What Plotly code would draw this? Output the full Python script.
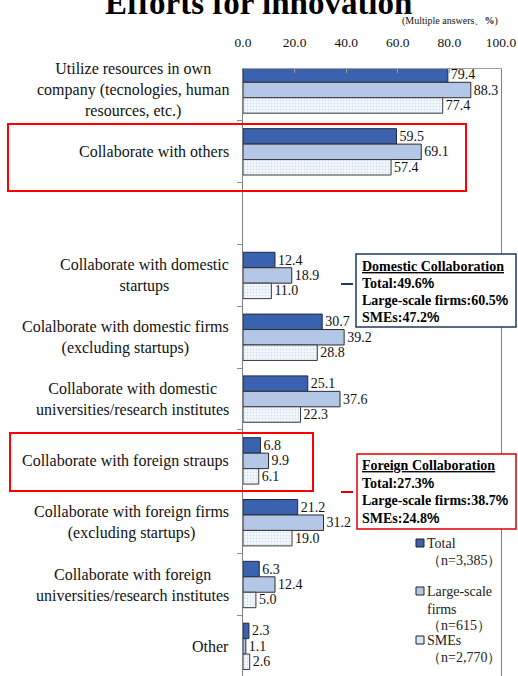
import plotly.graph_objects as go

# ---------------- data ----------------
categories = [
    "Utilize resources in own<br>company (tecnologies, human<br>resources, etc.)",
    "Collaborate with others",
    " ",
    "Collaborate with domestic<br>startups",
    "Colalborate with domestic firms<br>(excluding startups)",
    "Collaborate with domestic<br>universities/research institutes",
    "Collaborate with foreign straups",
    "Collaborate with foreign firms<br>(excluding startups)",
    "Collaborate with foreign<br>universities/research institutes",
    "Other",
]
total = [79.4, 59.5, None, 12.4, 30.7, 25.1, 6.8, 21.2, 6.3, 2.3]
large = [88.3, 69.1, None, 18.9, 39.2, 37.6, 9.9, 31.2, 12.4, 1.1]
smes = [77.4, 57.4, None, 11.0, 28.8, 22.3, 6.1, 19.0, 5.0, 2.6]
series_names = ["Total", "Large-scale firms", "SMEs"]
legend_lines = [["Total", "（n=3,385）"],
                ["Large-scale", "firms", "（n=615）"],
                ["SMEs", "（n=2,770）"]]
x_ticks = [0, 20, 40, 60, 80, 100]
x_ticklabels = ["0.0", "20.0", "40.0", "60.0", "80.0", "100.0"]
title = "Efforts for innovation"
note = "(Multiple answers、<b>%</b>)"
domestic_lines = ["Domestic Collaboration", "Total:49.6", "Large-scale firms:60.5", "SMEs:47.2"]
foreign_lines = ["Foreign Collaboration", "Total:27.3", "Large-scale firms:38.7", "SMEs:24.8"]

# ---------------- layout geometry ----------------
W, H = 518, 676
L, R, T, B = 243, 17, 69, 0
PW, PH = W - L - R, H - T - B
SERIF = "Liberation Serif, Times New Roman, serif"


def px(xp):
    return (xp - L) / PW


def py(yp):
    return (H - B - yp) / PH


fig = go.Figure()

styles = [
    dict(color="#3A62AE", line=dict(color="#1F2A44", width=1)),
    dict(color="#B4C7E7", line=dict(color="#2B2B2B", width=1)),
    dict(color="#FFFFFF", line=dict(color="#3A3A3A", width=1),
         pattern=dict(shape=".", fgcolor="#A8C3E6", bgcolor="#F7FAFE", size=3, solidity=0.3)),
]
for name, vals, st in zip(series_names, [total, large, smes], styles):
    fig.add_trace(go.Bar(
        y=categories, x=vals, name=name, orientation="h",
        marker=st,
        text=[None if v is None else f"{v:.1f}" for v in vals],
        textposition="outside", cliponaxis=False, constraintext="none",
        textfont=dict(family=SERIF, size=14, color="#111"),
        showlegend=False, hoverinfo="skip",
    ))

fig.update_layout(
    width=W, height=H,
    margin=dict(l=L, r=R, t=T, b=B, pad=0),
    paper_bgcolor="white", plot_bgcolor="white",
    barmode="group", bargap=0.25, bargroupgap=0,
    font=dict(family=SERIF, size=13, color="#111"),
    xaxis=dict(
        side="top", range=[0, 100], tickvals=x_ticks, ticktext=x_ticklabels,
        showgrid=False, zeroline=False, showline=True, linecolor="#A0A0A0",
        linewidth=1, mirror=True, ticks="inside", ticklen=4, tickcolor="#A0A0A0",
        ticklabelstandoff=16, tickfont=dict(family=SERIF, size=13.5, color="#111"),
        fixedrange=True, automargin=False,
    ),
    yaxis=dict(
        type="category", categoryorder="array", categoryarray=categories,
        range=[9.48, -0.34], showticklabels=False, tickson="boundaries",
        ticks="outside", ticklen=5, tickcolor="#8C8C8C",
        showgrid=False, zeroline=False, showline=True, linecolor="#808080",
        linewidth=1.3, mirror=True, fixedrange=True, automargin=False,
    ),
)

ann = []
# category labels
for c in categories:
    if c.strip():
        ann.append(dict(xref="paper", yref="y", x=px(231), y=c, text=c,
                        xanchor="right", yanchor="middle", align="center",
                        showarrow=False, font=dict(family=SERIF, size=16, color="#111")))
# title and note
ann.append(dict(xref="paper", yref="paper", x=px(258), y=py(3), text=f"<b>{title}</b>",
                xanchor="center", yanchor="middle", showarrow=False,
                font=dict(family=SERIF, size=33, color="#000")))
ann.append(dict(xref="paper", yref="paper", x=px(500), y=py(21), text=note,
                xanchor="right", yanchor="middle", showarrow=False,
                font=dict(family=SERIF, size=10, color="#111")))


def pct_line(txt, first):
    if first:
        return f"<b><span style='text-decoration:underline'>{txt}</span></b>"
    return f"<b>{txt}<span style='font-family:Arial, Liberation Sans, sans-serif'>%</span></b>"


for lines, ys in [(domestic_lines, [266, 283, 300, 317]), (foreign_lines, [466, 483, 500, 518])]:
    for i, (t, yy) in enumerate(zip(lines, ys)):
        ann.append(dict(xref="paper", yref="paper", x=px(360), y=py(yy), text=pct_line(t, i == 0),
                        xanchor="left", yanchor="middle", showarrow=False,
                        font=dict(family=SERIF, size=14, color="#000")))

# legend
legend_y = [[543, 560], [591, 609, 625], [640, 657]]
for lines, ys in zip(legend_lines, legend_y):
    for t, yy in zip(lines, ys):
        ann.append(dict(xref="paper", yref="paper", x=px(425), y=py(yy), text=t,
                        xanchor="left", yanchor="middle", showarrow=False,
                        font=dict(family=SERIF, size=14, color="#222")))
fig.update_layout(annotations=ann)

shapes = []
# red highlight boxes
for x0, x1, y0, y1 in [(8, 466, 124, 191), (10, 313, 433, 491)]:
    shapes.append(dict(type="rect", xref="paper", yref="paper", x0=px(x0), x1=px(x1),
                       y0=py(y1), y1=py(y0), line=dict(color="#FF0000", width=2)))
# callout boxes and connectors
shapes.append(dict(type="rect", xref="paper", yref="paper", x0=px(356), x1=px(516),
                   y0=py(327), y1=py(254), fillcolor="white", line=dict(color="#1F3864", width=1.5)))
shapes.append(dict(type="line", xref="paper", yref="paper", x0=px(341), x1=px(353),
                   y0=py(284), y1=py(284), line=dict(color="#1F3864", width=2)))
shapes.append(dict(type="rect", xref="paper", yref="paper", x0=px(357), x1=px(516),
                   y0=py(529), y1=py(454), fillcolor="white", line=dict(color="#E00000", width=1.5)))
shapes.append(dict(type="line", xref="paper", yref="paper", x0=px(341), x1=px(353),
                   y0=py(492), y1=py(492), line=dict(color="#E00000", width=2)))
# legend squares
sq_fill = ["#3A62AE", "#B4C7E7", "#DCE8F6"]
for fc, yy in zip(sq_fill, [543, 591, 640]):
    shapes.append(dict(type="rect", xref="paper", yref="paper", x0=px(416), x1=px(424),
                       y0=py(yy + 4), y1=py(yy - 4), fillcolor=fc,
                       line=dict(color="#222", width=1)))
fig.update_layout(shapes=shapes)

fig.write_html("out.html", config={"displayModeBar": False},
               post_script="document.body.style.margin='0';document.body.style.overflow='hidden';")
